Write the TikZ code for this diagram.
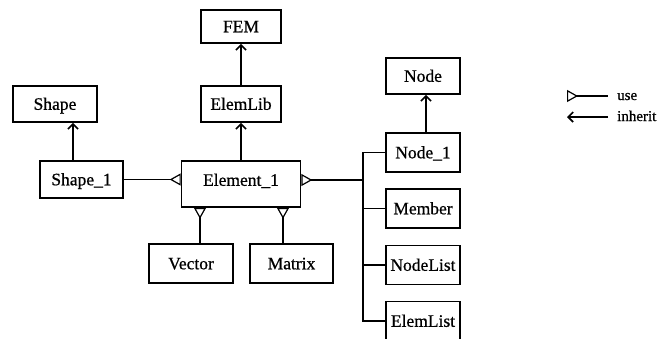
\documentclass[tikz,border=0pt]{standalone}
\usepackage{fontspec}
\setmainfont[FakeBold=0.7]{Liberation Serif}
\usetikzlibrary{arrows.meta}
\begin{document}
\begin{tikzpicture}[x=1pt,y=-1pt,
  cls/.style={draw, line width=1.6pt, rectangle, inner sep=0pt,
    font=\fontsize{17.5}{20}\selectfont, text height=11.6pt, text depth=0pt},
  inh/.style={line width=1.4pt, -{Straight Barb[length=5pt,width=10pt,line width=1.7pt]}},
  uses/.style={line width=1.1pt, {Triangle[open,reversed,length=11pt,width=12pt,line width=1.2pt]}-},
  bus/.style={line width=1.1pt},
  legend/.style={anchor=base west, inner sep=0pt, font=\fontsize{15}{18}\selectfont},
]
\useasboundingbox (0,0) rectangle (665,338);

% classes
\node[cls, minimum width=80pt, minimum height=33pt] (fem) at (241,26.5) {FEM};
\node[cls, minimum width=80pt, minimum height=36pt] (elemlib) at (241,104) {ElemLib};
\node[cls, minimum width=84pt, minimum height=36pt] (shape) at (55,104) {Shape};
\node[cls, minimum width=83pt, minimum height=37pt] (shape1) at (81.5,179.5) {Shape\_1};
\node[cls, minimum width=119pt, minimum height=46pt, text depth=8pt] (element) at (241,184) {Element\_1};
\node[cls, minimum width=84pt, minimum height=39pt] (vector) at (191,263.5) {Vector};
\node[cls, minimum width=83pt, minimum height=39pt] (matrix) at (291.5,263.5) {Matrix};
\node[cls, minimum width=74pt, minimum height=36pt] (node) at (423,76) {Node};
\node[cls, minimum width=74pt, minimum height=39pt] (node1) at (423,152.5) {Node\_1};
\node[cls, minimum width=74pt, minimum height=39pt] (member) at (423,208.5) {Member};
\node[cls, minimum width=74pt, minimum height=39pt] (nodelist) at (423,265) {NodeList};
\node[cls, minimum width=74pt, minimum height=39pt] (elemlist) at (423,321) {ElemList};

% guide coordinates for off-centre connectors
\coordinate (sx) at (73,0);
\coordinate (nx) at (426,0);
\coordinate (vx) at (200,0);
\coordinate (mx) at (283,0);
\coordinate (bx) at (363,180);

% inheritance
\draw[inh] (elemlib) -- (fem);
\draw[inh] (element) -- (elemlib);
\draw[inh] (sx |- shape1.north) -- (sx |- shape.south);
\draw[inh] (nx |- node1.north) -- (nx |- node.south);

% use relations
\draw[uses] (element.west |- shape1.east) -- (shape1.east);
\draw[uses] (element.east |- bx) -- (bx);
\draw[uses] (vx |- element.south) -- (vx |- vector.north);
\draw[uses] (mx |- element.south) -- (mx |- matrix.north);

% bus to the right-hand classes
\draw[bus] (node1.west) -- (node1.west -| bx) -- (elemlist.west -| bx) -- (elemlist.west);
\draw[bus] (member.west -| bx) -- (member.west);
\draw[bus] (nodelist.west -| bx) -- (nodelist.west);

% legend
\coordinate (ua) at (567,96);
\coordinate (ub) at (608,96);
\coordinate (ia) at (567,117);
\coordinate (ib) at (608,117);
\draw[uses] (ua) -- (ub);
\draw[inh] (ib) -- (ia);
\node[legend] (uselbl) at (617,100) {use};
\node[legend] (inhlbl) at (617,121) {inherit};
\end{tikzpicture}
\end{document}
